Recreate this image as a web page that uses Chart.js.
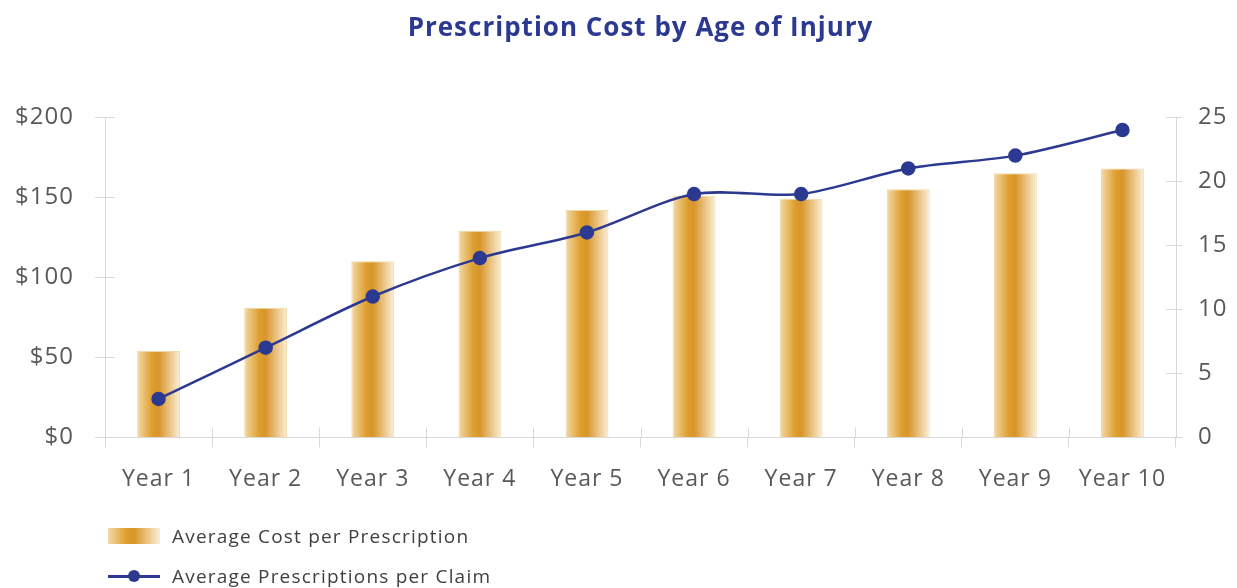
<!DOCTYPE html>
<html>
<head>
<meta charset="utf-8">
<script src="https://cdn.jsdelivr.net/npm/chart.js@4/dist/chart.umd.min.js"></script>
<style>
  html, body { margin: 0; padding: 0; background: #fff; }
  #wrap { position: relative; width: 1237px; height: 588px; }
  #legend { position: absolute; left: 108px; top: 516px; font-family: "Open Sans", Lato, sans-serif; font-size: 19px; letter-spacing: 1.2px; color: #404040; }
  .item { display: flex; align-items: center; height: 40px; }
  .swatch { position: relative; width: 52px; height: 16px; margin-right: 12px; }
  .bar-sw { background: linear-gradient(to right, #F3D9A8 0%, #DE9E2E 35%, #D8952A 50%, #FBEFD9 100%); }
  .line-sw::before { content: ""; position: absolute; left: 0; right: 0; top: 7px; height: 2.5px; background: #2B3990; }
  .line-sw::after { content: ""; position: absolute; left: 20px; top: 2px; width: 12px; height: 12px; border-radius: 50%; background: #2B3990; }
</style>
</head>
<body>
<div id="wrap">
  <canvas id="rxChart" width="1237" height="588"></canvas>
  <div id="legend">
    <div class="item"><span class="swatch bar-sw"></span>Average Cost per Prescription</div>
    <div class="item"><span class="swatch line-sw"></span>Average Prescriptions per Claim</div>
  </div>
</div>
<script>
const years = ["Year 1", "Year 2", "Year 3", "Year 4", "Year 5", "Year 6", "Year 7", "Year 8", "Year 9", "Year 10"];
const avgCost = [54, 81, 110, 129, 142, 151, 149, 155, 165, 168];
const avgRxPerClaim = [3, 7, 11, 14, 16, 19, 19, 21, 22, 24];
const costTicks = [0, 50, 100, 150, 200];
const countTicks = [0, 5, 10, 15, 20, 25];

const navy = "#2B3990";
const axisGray = "#D9D9D9";
const labelGray = "#595959";
const fontFamily = "'Open Sans', Lato, sans-serif";
const barPct = 0.4;

// horizontal gold gradient across each bar
function barGradient(context) {
  const chart = context.chart;
  if (!chart.chartArea) return "#DE9E2E";
  const xScale = chart.scales.x;
  const cx = xScale.getPixelForValue(context.dataIndex);
  const w = (xScale.width / years.length) * barPct;
  const g = chart.ctx.createLinearGradient(cx - w / 2, 0, cx + w / 2, 0);
  g.addColorStop(0, "#F3D9A8");
  g.addColorStop(0.35, "#DE9E2E");
  g.addColorStop(0.5, "#D8952A");
  g.addColorStop(1, "#FBEFD9");
  return g;
}

// slightly wider text spacing for all canvas labels
const spacedText = {
  id: "spacedText",
  beforeUpdate(chart) { chart.ctx.letterSpacing = "1px"; },
  beforeDraw(chart) { chart.ctx.letterSpacing = "1px"; },
};

// tick marks that cross the axis lines (the outer half comes from the scales)
const crossTicks = {
  id: "crossTicks",
  afterDatasetsDraw(chart) {
    const { ctx, chartArea, scales } = chart;
    const len = 10;
    ctx.save();
    ctx.strokeStyle = axisGray;
    ctx.lineWidth = 1;
    ctx.beginPath();
    costTicks.forEach((v) => {
      const y = Math.round(scales.y.getPixelForValue(v)) + 0.5;
      ctx.moveTo(chartArea.left, y);
      ctx.lineTo(chartArea.left + len, y);
    });
    countTicks.forEach((v) => {
      const y = Math.round(scales.y1.getPixelForValue(v)) + 0.5;
      ctx.moveTo(chartArea.right - len, y);
      ctx.lineTo(chartArea.right, y);
    });
    for (let i = 0; i <= years.length; i++) {
      const x = Math.round(chartArea.left + (chartArea.width * i) / years.length) + 0.5;
      ctx.moveTo(x, chartArea.bottom - len);
      ctx.lineTo(x, chartArea.bottom);
    }
    ctx.stroke();
    ctx.restore();
  },
};

new Chart(document.getElementById("rxChart"), {
  data: {
    labels: years,
    datasets: [
      {
        type: "line",
        label: "Average Prescriptions per Claim",
        data: avgRxPerClaim,
        yAxisID: "y1",
        borderColor: navy,
        backgroundColor: navy,
        borderWidth: 2.5,
        tension: 0.3,
        pointRadius: 6,
        pointBackgroundColor: navy,
        pointBorderColor: navy,
        order: 0,
      },
      {
        type: "bar",
        label: "Average Cost per Prescription",
        data: avgCost,
        yAxisID: "y",
        backgroundColor: barGradient,
        borderColor: "#F0D9A6",
        borderWidth: 1,
        barPercentage: barPct,
        categoryPercentage: 1,
        order: 1,
      },
    ],
  },
  plugins: [spacedText, crossTicks],
  options: {
    responsive: false,
    animation: false,
    layout: { padding: { left: 0, right: 0, top: 0, bottom: 77 } },
    plugins: {
      legend: { display: false },
      tooltip: { enabled: false },
      title: {
        display: true,
        fullSize: false,
        text: "Prescription Cost by Age of Injury",
        color: navy,
        font: { family: fontFamily, size: 26, weight: "bold" },
        padding: { top: 13, bottom: 73 },
      },
    },
    scales: {
      x: {
        grid: { display: true, drawOnChartArea: false, color: axisGray, tickLength: 10, offset: true },
        border: { color: axisGray },
        ticks: { color: labelGray, padding: 18, font: { family: fontFamily, size: 23 } },
      },
      y: {
        position: "left",
        min: 0,
        max: 200,
        afterBuildTicks: (axis) => { axis.ticks = costTicks.map((v) => ({ value: v })); },
        afterFit: (axis) => { axis.width = 105; },
        grid: { drawOnChartArea: false, color: axisGray, tickLength: 10 },
        border: { color: axisGray },
        ticks: { color: labelGray, padding: 21, font: { family: fontFamily, size: 24 }, callback: (v) => "$" + v },
      },
      y1: {
        position: "right",
        min: 0,
        max: 25,
        afterBuildTicks: (axis) => { axis.ticks = countTicks.map((v) => ({ value: v })); },
        afterFit: (axis) => { axis.width = 61; },
        grid: { drawOnChartArea: false, color: axisGray, tickLength: 6 },
        border: { color: axisGray },
        ticks: { color: labelGray, padding: 16, font: { family: fontFamily, size: 24 } },
      },
    },
  },
});
</script>
</body>
</html>
